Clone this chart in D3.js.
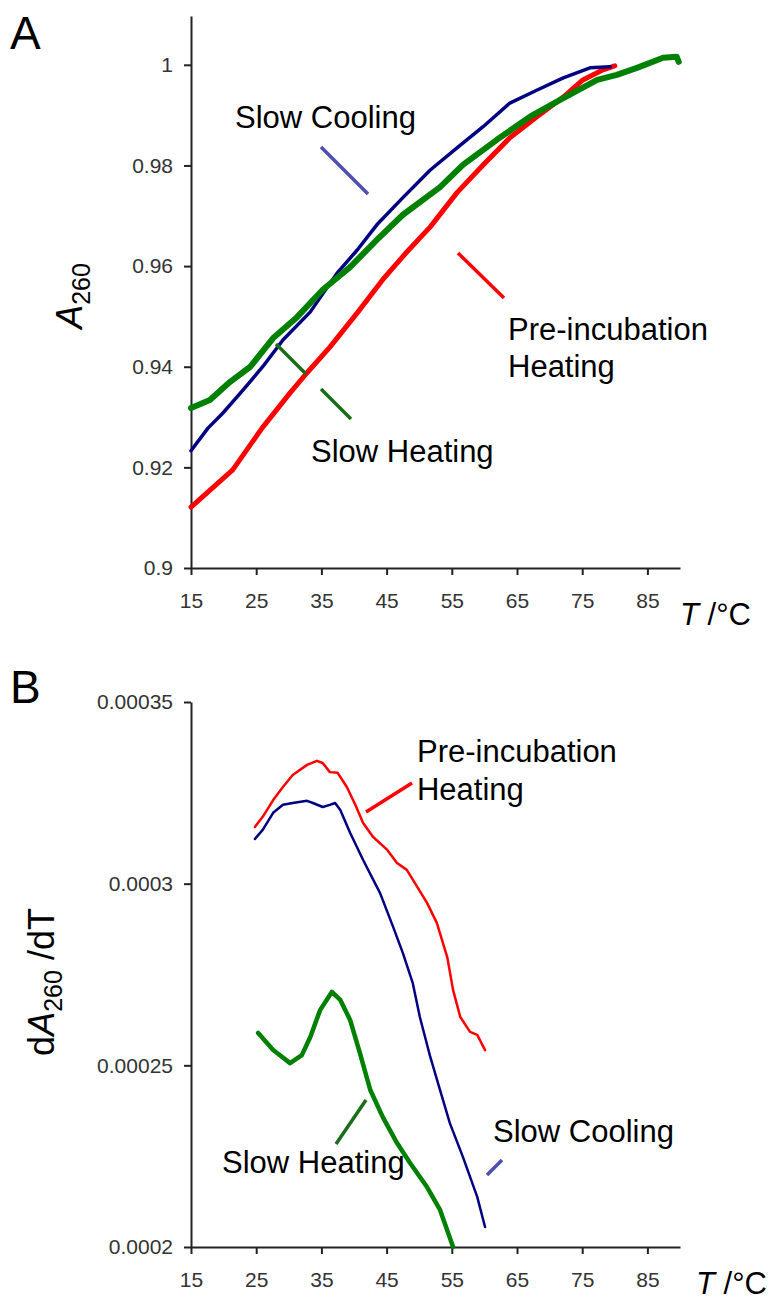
<!DOCTYPE html>
<html lang="en">
<head>
    <meta charset="UTF-8">
    <title>A260 melting curves</title>
    <script src="https://cdn.jsdelivr.net/npm/d3@7"></script>
    <style>
        body { margin: 0; background: #fff; }
        svg { display: block; font-family: "Liberation Sans", Arial, sans-serif; }
        .axis path, .axis line { stroke: #222; stroke-width: 2; }
        .axis text { fill: #333; font-size: 21px; font-family: "Liberation Sans", Arial, sans-serif; }
        .note { font-size: 31px; fill: #000; }
        .curve { fill: none; stroke-linejoin: round; stroke-linecap: round; }
    </style>
</head>
<body>
<script>
// ---- data ----
const xTicks = [15, 25, 35, 45, 55, 65, 75, 85];
const topTicks = [0.9, 0.92, 0.94, 0.96, 0.98, 1];
const botTicks = [0.0002, 0.00025, 0.0003, 0.00035];

// panel A: absorbance vs T
const heatA = [[15,0.9318],[17.9,0.9334],[21.0,0.9370],[24.1,0.9400],[27.6,0.9457],[31.3,0.9499],[35.2,0.9553],
    [39.4,0.9598],[43.5,0.9652],[47.5,0.9702],[53.2,0.9757],[56.7,0.9801],[61.9,0.9851],[67.0,0.9897],
    [72.1,0.9934],[77.3,0.9970],[80.3,0.9980],[83.4,0.9994],[87.4,1.0014],[89.5,1.0016],[89.8,1.0006]];
const coolA = [[15,0.9233],[17.6,0.9278],[19.9,0.9308],[23.0,0.9354],[26.0,0.9400],[29.1,0.9453],[33.3,0.9509],
    [37.4,0.9586],[40.5,0.9632],[43.5,0.9682],[47.5,0.9736],[51.7,0.9791],[55.8,0.9835],[59.8,0.9877],
    [63.9,0.9924],[68.1,0.9950],[72.1,0.9974],[76.2,0.9994],[79.3,0.9996]];
const preA = [[15,0.9121],[21.4,0.9195],[25.9,0.9278],[30.2,0.9348],[32.8,0.9388],[36.3,0.9439],[40.5,0.9507],
    [44.4,0.9573],[48.1,0.9628],[51.7,0.9678],[55.8,0.9746],[59.8,0.9801],[63.9,0.9855],[68.1,0.9897],
    [72.1,0.9936],[75.1,0.9970],[78.2,0.9990],[80.0,0.9998]];

// panel B: dA/dT vs T
const heatB = [[25.3,0.0002589],[27.6,0.0002542],[30.2,0.0002506],[32.0,0.0002528],[33.3,0.0002578],[34.8,0.0002652],
    [36.6,0.0002702],[37.9,0.0002680],[39.4,0.0002625],[40.9,0.0002534],[42.5,0.0002432],[44.4,0.0002358],
    [46.6,0.0002286],[48.6,0.0002231],[51.2,0.0002165],[53.2,0.0002102],[55.2,0.0002000]];
const coolB = [[24.8,0.0003123],[26.0,0.0003148],[27.6,0.0003195],[29.1,0.0003217],[30.6,0.0003222],[32.8,0.0003228],
    [33.7,0.0003222],[35.2,0.0003211],[36.3,0.0003217],[37.1,0.0003222],[37.9,0.0003203],[39.4,0.0003140],
    [41.4,0.0003065],[44.0,0.0002974],[46.0,0.0002881],[47.5,0.0002809],[49.0,0.0002727],[50.1,0.0002633],
    [51.7,0.0002523],[53.2,0.0002432],[54.7,0.0002341],[56.7,0.0002248],[58.9,0.0002138],[60.1,0.0002055]];
const preB = [[24.8,0.0003156],[26.0,0.0003184],[27.6,0.0003230],[29.1,0.0003266],[30.6,0.0003299],[32.8,0.0003327],
    [34.3,0.0003338],[35.2,0.0003332],[36.3,0.0003307],[37.5,0.0003305],[38.9,0.0003266],[40.2,0.0003217],
    [41.4,0.0003167],[42.9,0.0003129],[45.1,0.0003093],[46.6,0.0003057],[48.1,0.0003038],[49.7,0.0002991],
    [51.2,0.0002947],[52.7,0.0002892],[54.3,0.0002798],[55.2,0.0002707],[56.3,0.0002633],[57.8,0.0002592],
    [58.9,0.0002584],[60.1,0.0002542]];

const seriesNames = ["Slow Heating", "Slow Cooling", "Pre-incubation Heating"];

const W = 771, H = 1300;
const svg = d3.select("body").append("svg").attr("width", W).attr("height", H);

const fmt = d3.format("~g");

function panel(opts) {
    const x = d3.scaleLinear([15, 90], [191, 680]);
    const y = d3.scaleLinear(opts.yDomain, opts.yRange);
    const g = svg.append("g");

    g.append("g").attr("class", "axis")
        .attr("transform", `translate(0,${opts.yRange[0]})`)
        .call(d3.axisBottom(x).tickValues(xTicks).tickSize(7).tickSizeOuter(0).tickPadding(18).tickFormat(fmt));
    g.append("g").attr("class", "axis")
        .attr("transform", "translate(191,0)")
        .call(d3.axisLeft(y).tickValues(opts.yTicks).tickSize(7).tickSizeOuter(0).tickPadding(11).tickFormat(fmt));

    const line = d3.line().x(d => x(d[0])).y(d => y(d[1]));
    opts.curves.forEach(c => {
        g.append("path").attr("class", "curve").attr("d", line(c.data))
            .attr("stroke", c.color).attr("stroke-width", c.width);
    });

    // annotation leader lines and labels (in data units)
    opts.leaders.forEach(l => {
        g.append("line")
            .attr("x1", x(l[0][0])).attr("y1", y(l[0][1]))
            .attr("x2", x(l[1][0])).attr("y2", y(l[1][1]))
            .attr("stroke", l[2]).attr("stroke-width", 3.5);
    });
    opts.notes.forEach(n => {
        g.append("text").attr("class", "note").attr("x", x(n[1])).attr("y", y(n[2])).text(n[0]);
    });

    // panel letter
    g.append("text").attr("x", 10).attr("y", opts.letterY)
        .style("font-size", "46px").text(opts.letter);

    // T /°C label, right-aligned
    const t = g.append("text").attr("x", opts.tX).attr("y", opts.yRange[0] + opts.tDy)
        .attr("text-anchor", "end").style("font-size", "31px");
    t.append("tspan").style("font-style", "italic").text("T");
    t.append("tspan").text(" /°C");

    return { x, y, g };
}

// ---- panel A ----
const pA = panel({
    yDomain: [0.9, 1.0097], yRange: [568, 16], yTicks: topTicks,
    curves: [
        { data: preA, color: "#ff0000", width: 5 },
        { data: coolA, color: "#000080", width: 3.5 },
        { data: heatA, color: "#008000", width: 6 }
    ],
    leaders: [
        [[34.94, 0.98367], [42.15, 0.97432], "#4f4fae"],
        [[55.95, 0.96260], [63.01, 0.95366], "#ff0000"],
        [[28.04, 0.94452], [32.64, 0.93855], "#1a6e1a"],
        [[34.94, 0.93557], [39.54, 0.92961], "#1a6e1a"]
    ],
    notes: [
        ["Slow Cooling", 21.75, 0.98744],
        ["Pre-incubation", 63.62, 0.94531],
        ["Heating", 63.62, 0.93796],
        ["Slow Heating", 33.40, 0.92107]
    ],
    letter: "A", letterY: 49, tX: 751, tDy: 57
});

const labA = pA.g.append("text")
    .attr("transform", "translate(82,296) rotate(-90)")
    .attr("text-anchor", "middle");
labA.append("tspan").style("font-size", "36px").style("font-style", "italic").text("A");
labA.append("tspan").style("font-size", "25px").attr("dy", 8).text("260");

// ---- panel B ----
const pB = panel({
    yDomain: [0.0002, 0.00035], yRange: [1247, 702], yTicks: botTicks,
    curves: [
        { data: preB, color: "#ff0000", width: 2.5 },
        { data: coolB, color: "#000080", width: 2.5 },
        { data: heatB, color: "#008000", width: 4.5 }
    ],
    leaders: [
        [[41.84, 0.00031973], [48.90, 0.00032771], "#ff0000"],
        [[60.40, 0.00021982], [62.70, 0.00022395], "#4f4fae"],
        [[37.24, 0.00022835], [41.84, 0.00024046], "#1a6e1a"]
    ],
    notes: [
        ["Pre-incubation", 49.66, 0.00033349],
        ["Heating", 49.66, 0.00032303],
        ["Slow Cooling", 61.32, 0.0002289],
        ["Slow Heating", 19.75, 0.00022037]
    ],
    letter: "B", letterY: 703, tX: 767, tDy: 47
});

const labB = pB.g.append("text")
    .attr("transform", "translate(54,982) rotate(-90)")
    .attr("text-anchor", "middle");
labB.append("tspan").style("font-size", "36px").text("d");
labB.append("tspan").style("font-size", "36px").style("font-style", "italic").text("A");
labB.append("tspan").style("font-size", "25px").attr("dy", 8).text("260");
labB.append("tspan").style("font-size", "36px").attr("dy", -8).text(" /dT");
</script>
</body>
</html>
